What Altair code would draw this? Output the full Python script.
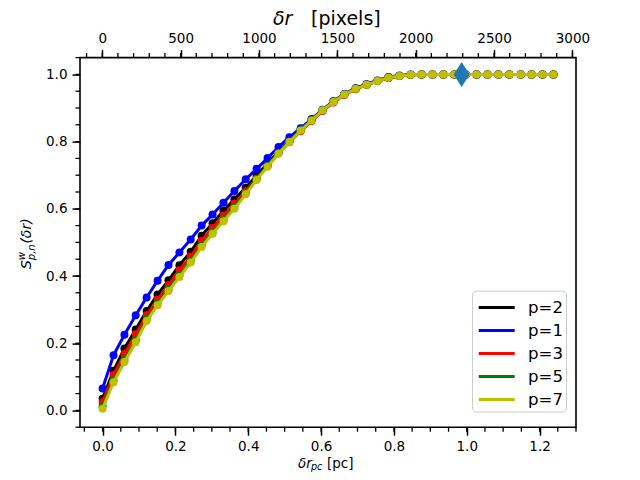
import altair as alt
import pandas as pd

# ---- data ----
dr_pc = [0.0, 0.030, 0.060, 0.091, 0.121, 0.151, 0.181, 0.211, 0.242, 0.272,
         0.302, 0.332, 0.362, 0.393, 0.423, 0.453, 0.483, 0.513, 0.544, 0.574,
         0.604, 0.634, 0.664, 0.695, 0.725, 0.755, 0.785, 0.815, 0.846, 0.876,
         0.906, 0.936, 0.966, 0.997, 1.027, 1.057, 1.087, 1.117, 1.148, 1.178,
         1.208, 1.238]

tail = [1.0] * 13
s_p2 = [0.035, 0.118, 0.184, 0.241, 0.296, 0.345, 0.387, 0.432, 0.472, 0.520,
        0.557, 0.594, 0.628, 0.663, 0.699, 0.735, 0.770, 0.803, 0.835, 0.865,
        0.894, 0.919, 0.941, 0.958, 0.970, 0.981, 0.990, 0.995, 0.999] + tail
s_p1 = [0.065, 0.164, 0.225, 0.283, 0.336, 0.386, 0.433, 0.470, 0.509, 0.550,
        0.583, 0.618, 0.653, 0.688, 0.719, 0.751, 0.784, 0.813, 0.840, 0.867,
        0.895, 0.920, 0.942, 0.959, 0.971, 0.982, 0.992, 0.997, 1.000] + tail
s_p3 = [0.025, 0.105, 0.168, 0.227, 0.283, 0.330, 0.373, 0.417, 0.458, 0.505,
        0.543, 0.580, 0.615, 0.652, 0.690, 0.728, 0.765, 0.798, 0.831, 0.861,
        0.891, 0.916, 0.939, 0.956, 0.969, 0.980, 0.990, 0.995, 0.999] + tail
s_p5 = [0.012, 0.090, 0.150, 0.209, 0.271, 0.318, 0.360, 0.402, 0.445, 0.491,
        0.530, 0.567, 0.604, 0.647, 0.689, 0.728, 0.767, 0.801, 0.834, 0.864,
        0.893, 0.918, 0.940, 0.957, 0.969, 0.980, 0.990, 0.995, 0.999] + tail
s_p7 = [0.005, 0.084, 0.144, 0.203, 0.266, 0.313, 0.355, 0.397, 0.440, 0.486,
        0.526, 0.563, 0.600, 0.643, 0.686, 0.725, 0.764, 0.799, 0.833, 0.863,
        0.893, 0.918, 0.940, 0.957, 0.969, 0.980, 0.990, 0.995, 0.999] + tail

series_names = ["p=2", "p=1", "p=3", "p=5", "p=7"]
series_vals = [s_p2, s_p1, s_p3, s_p5, s_p7]
series_colors = ["#000000", "#0000ff", "#ff0000", "#008000", "#bfbf00"]

marker_x = [0.986]
marker_y = [1.0]

x_ticks = [0.0, 0.2, 0.4, 0.6, 0.8, 1.0, 1.2]
y_ticks = [0.0, 0.2, 0.4, 0.6, 0.8, 1.0]
x_minor = [round(-0.05 + 0.05 * i, 2) for i in range(28)]
y_minor = [round(-0.05 + 0.05 * i, 2) for i in range(23)]
px_ticks = [0, 500, 1000, 1500, 2000, 2500, 3000]
px_minor = [-100 + 100 * i for i in range(32)]

X_DOMAIN = [-0.062, 1.300]
Y_DOMAIN = [-0.05, 1.05]
PX_DOMAIN = [-142, 3023]

W, H = 496, 369.6
FONT = "DejaVu Sans"

xscale = alt.Scale(domain=X_DOMAIN, nice=False, zero=False)
yscale = alt.Scale(domain=Y_DOMAIN, nice=False, zero=False)
xaxis = alt.Axis(values=x_ticks, format=".1f", title=None, grid=False, domain=False,
                 tickSize=8, tickWidth=1.5, tickColor="black", labelPadding=4,
                 labelFontSize=13.5, labelFont=FONT, labelColor="black")
yaxis = alt.Axis(values=y_ticks, format=".1f", title=None, grid=False, domain=False,
                 tickSize=8, tickWidth=1.5, tickColor="black", labelPadding=5,
                 labelFontSize=13.5, labelFont=FONT, labelColor="black")

legend = alt.Legend(orient="none", legendX=392, legendY=233, title=None,
                    fillColor="white", strokeColor="#cccccc", cornerRadius=4,
                    padding=3, labelFontSize=16.6, labelFont=FONT, labelColor="black",
                    symbolType="M-0.84,0H2.1", symbolSize=600, symbolStrokeWidth=3,
                    rowPadding=0, labelOffset=25, labelExpr="datum.label + '    '")
color_scale = alt.Scale(domain=series_names, range=series_colors)

layers = []

# minor ticks (bottom and left)
xm = pd.DataFrame({"x": x_minor})
layers.append(alt.Chart(xm).mark_rule(color="black", strokeWidth=1.3).encode(
    x=alt.X("x:Q", scale=xscale, axis=xaxis), y=alt.value(H), y2=alt.value(H + 4.5)))
ym = pd.DataFrame({"y": y_minor})
layers.append(alt.Chart(ym).mark_rule(color="black", strokeWidth=1.3).encode(
    y=alt.Y("y:Q", scale=yscale, axis=yaxis), x=alt.value(0), x2=alt.value(-4.5)))

for name, vals, col in zip(series_names, series_vals, series_colors):
    df = pd.DataFrame({"x": dr_pc, "y": vals, "series": name})
    base = alt.Chart(df)
    layers.append(base.mark_line(strokeWidth=3).encode(
        x=alt.X("x:Q", scale=xscale, axis=xaxis),
        y=alt.Y("y:Q", scale=yscale, axis=yaxis),
        color=alt.Color("series:N", scale=color_scale, legend=legend)))
    layers.append(base.mark_circle(size=64, color=col, opacity=1).encode(
        x=alt.X("x:Q", scale=xscale, axis=xaxis),
        y=alt.Y("y:Q", scale=yscale, axis=yaxis)))

dm = pd.DataFrame({"x": marker_x, "y": marker_y})
layers.append(alt.Chart(dm).mark_point(shape="M0,-1L0.64,0L0,1L-0.64,0Z", filled=True,
                                       size=625, color="#1f77b4", opacity=1).encode(
    x=alt.X("x:Q", scale=xscale, axis=xaxis),
    y=alt.Y("y:Q", scale=yscale, axis=yaxis)))


def label(text, x, y, size, italic=False, angle=0):
    kw = dict(font=FONT, fontSize=size, align="left", baseline="alphabetic", color="black")
    if italic:
        kw["fontStyle"] = "italic"
    if angle:
        kw["angle"] = angle
    return alt.Chart(pd.DataFrame({"t": [text]})).mark_text(**kw).encode(
        text="t:N", x=alt.value(x), y=alt.value(y))


# y-axis title  S^w_{p,n}(δr)
layers.append(label("S", -49, 211.4, 14, True, 270))
layers.append(label("w", -55, 202.6, 10, True, 270))
layers.append(label("p,n", -45.5, 202.6, 10, True, 270))
layers.append(label("(δr)", -49, 186, 14, True, 270))
# bottom title  δr_pc [pc]
layers.append(label("δr", 218, 410, 13.5, True))
layers.append(label("pc", 231, 412, 9.6, True))
layers.append(label("[pc]", 247, 410, 13.5))
# top title  δr [pixels]
layers.append(label("δr", 193, -32.5, 19, True))
layers.append(label("[pixels]", 231, -32.5, 19))

inner = alt.layer(*layers)

top = alt.Chart(pd.DataFrame({"px": px_minor})).mark_rule(color="black", strokeWidth=1.3).encode(
    x=alt.X("px:Q", scale=alt.Scale(domain=PX_DOMAIN, nice=False, zero=False),
            axis=alt.Axis(orient="top", values=px_ticks, format="d", title=None, grid=False,
                          domain=False, tickSize=8, tickWidth=1.5, tickColor="black",
                          labelPadding=4.5, labelFontSize=13.5, labelFont=FONT,
                          labelColor="black")),
    y=alt.value(0), y2=alt.value(-4.5))

chart = alt.layer(inner, top).resolve_scale(x="independent").resolve_axis(x="independent").properties(
    width=W, height=H,
    autosize=alt.AutoSizeParams(type="none"),
    padding={"left": 72, "top": 49.6, "right": 56, "bottom": 44.8},
).configure_view(stroke="black", strokeWidth=1.6)

chart.save("out.html", embed_options={"renderer": "svg", "actions": False})
